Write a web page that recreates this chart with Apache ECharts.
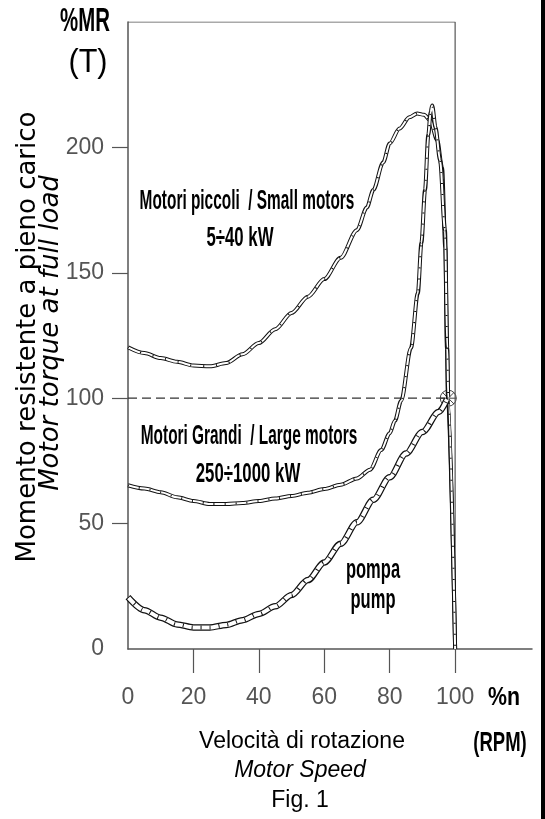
<!DOCTYPE html>
<html><head><meta charset="utf-8">
<script src="https://cdn.jsdelivr.net/npm/echarts@6/dist/echarts.min.js"></script>
<style>html,body{margin:0;padding:0;background:#fff}#c{width:545px;height:819px}</style>
</head><body><div id="c"></div>
<script>
// ---- data ----
const xTickLabels = [0, 20, 40, 60, 80, 100];
const xTickMarks = [20, 40, 60, 80, 100];
const yTickLabels = [0, 50, 100, 150, 200];
const yTickMarks = [50, 100, 150, 200];

const smallSpeed  = [0, 5, 10, 15, 20, 25, 30, 35, 40, 45, 50, 55, 60, 65, 70, 73, 75, 78, 80, 83, 86, 88.4, 90.5, 92.4, 94.5, 96, 97, 97.5, 97.8, 100];
const smallTorque = [120.3, 118, 116, 114.5, 113, 112.7, 114, 117.5, 122, 127.5, 134, 140.5, 147.5, 156, 167, 176, 183, 194, 201.6, 207.5, 212, 213.5, 213, 210.8, 203, 192, 160, 120, 100, 0];

const largeSpeed  = [0, 5, 10, 15, 20, 25, 30, 35, 40, 45, 50, 55, 60, 65, 70, 74, 77.4, 80, 81.6, 83.5, 86.5, 88.6, 89.7, 90.8, 91.8, 92.5, 93, 94, 95.4, 96.9, 97.6, 97.9, 100];
const largeTorque = [65.3, 64, 62.5, 60.5, 59, 57.8, 57.8, 58.2, 59, 60, 61, 62.3, 63.8, 65.5, 68, 71.5, 79.3, 86, 91, 99, 120, 141.8, 162, 183, 205, 214, 216.7, 208, 194.8, 166.9, 120, 100, 0];

const pumpSpeed  = [0, 5, 10, 15, 20, 25, 30, 35, 40, 45, 50, 55, 60, 65, 70, 75, 80, 85, 90, 95, 97.5];
const pumpTorque = [20.7, 15.5, 12.5, 9.8, 8.6, 8.6, 9.6, 11.5, 14, 17, 21.5, 27.5, 34.5, 42, 50.5, 59.5, 68.5, 78, 86.5, 94.5, 99.5];

const nominalSpeed = [0, 97.9];
const nominalTorque = [100, 100];
const markerPoint = [97.9, 100];

const frameSpeed = [0, 100, 100];
const frameTorque = [250, 250, 0];

// ---- helpers ----
function pairs(xs, ys) { return xs.map((x, i) => [x, ys[i]]); }
function band(data, outer, inner, dash) {
  const base = { type: 'line', data: data, showSymbol: false, symbol: 'none', smooth: 0.3, smoothMonotone: 'x', silent: true };
  const out = [
    Object.assign({}, base, { lineStyle: { color: '#111', width: outer } }),
    Object.assign({}, base, { lineStyle: { color: '#fff', width: inner } })
  ];
  if (dash) out.push(Object.assign({}, base, { lineStyle: { color: '#111', width: inner, type: dash, cap: 'butt' } }));
  return out;
}
function txt(text, x, y, font, sx, extra) {
  return Object.assign({
    type: 'text', x: x, y: y, scaleX: sx || 1, silent: true,
    style: { text: text, font: font, fill: '#000', textAlign: 'center', textVerticalAlign: 'middle' }
  }, extra || {});
}
const SANS = "'Liberation Sans', Arial, sans-serif";
const ANN = "bold 28px " + SANS;

const chart = echarts.init(document.getElementById('c'), null, { renderer: 'canvas' });
const series = [].concat(
  [{ type: 'line', data: pairs(frameSpeed, frameTorque), showSymbol: false, symbol: 'none', silent: true,
     lineStyle: { color: '#555', width: 1.2 } }],
  [{ type: 'line', data: pairs(nominalSpeed, nominalTorque), showSymbol: false, symbol: 'none', silent: true,
     lineStyle: { color: '#333', width: 1.2, type: [9, 5] } }],
  band(pairs(smallSpeed, smallTorque), 4, 2, [1, 12]),
  band(pairs(largeSpeed, largeTorque), 4, 2, [1, 10]),
  band(pairs(pumpSpeed, pumpTorque), 6.5, 4, [1, 8]),
  [{ type: 'scatter', data: [markerPoint], symbolSize: 16, silent: true,
     symbol: 'path://M0,-10 A10,10 0 1,1 0,10 A10,10 0 1,1 0,-10 Z M0,-10 L0,10 M-10,0 L10,0 M-7.07,-7.07 L7.07,7.07 M-7.07,7.07 L7.07,-7.07',
     itemStyle: { color: 'rgba(255,255,255,0)', borderColor: '#111', borderWidth: 1 } }]
);

chart.setOption({
  animation: false,
  backgroundColor: '#fff',
  grid: { left: 128, right: 13, top: 22, bottom: 170, containLabel: false, outerBoundsMode: 'none' },
  xAxis: {
    type: 'value', min: 0, max: 123.5, interval: 20,
    axisLine: { show: true, lineStyle: { color: '#555', width: 1.5 } },
    axisTick: { show: true, length: 24, inside: false, customValues: xTickMarks, lineStyle: { color: '#555', width: 1.2 } },
    axisLabel: { show: true, margin: 37, customValues: xTickLabels, color: '#555', fontFamily: SANS, fontSize: 23 },
    splitLine: { show: false }
  },
  yAxis: {
    type: 'value', min: 0, max: 250, interval: 50,
    axisLine: { show: true, lineStyle: { color: '#555', width: 1.5 } },
    axisTick: { show: true, length: 16, inside: false, customValues: yTickMarks, lineStyle: { color: '#555', width: 1.2 } },
    axisLabel: { show: true, margin: 24, customValues: yTickLabels, color: '#555', fontFamily: SANS, fontSize: 23 },
    splitLine: { show: false }
  },
  series: series,
  graphic: [
    { type: 'rect', left: 541, top: 0, shape: { width: 4, height: 819 }, style: { fill: '#000' }, silent: true },
    txt('%MR', 85, 22, 'bold 34px ' + SANS, 0.6),
    txt('(T)', 88, 63, '34px ' + SANS, 0.9),
    txt('%n', 504, 698, 'bold 26px ' + SANS, 0.82),
    txt('(RPM)', 500, 743, 'bold 28px ' + SANS, 0.66),
    txt('Momento resistente a pieno carico', 28, 337, "26px 'DejaVu Sans', sans-serif", 1, { rotation: Math.PI / 2 }),
    txt('Motor torque at full load', 51, 333, "italic 26px 'DejaVu Sans', sans-serif", 1, { rotation: Math.PI / 2 }),
    txt('Velocità di rotazione', 302, 742, "23px " + SANS, 1),
    txt('Motor Speed', 300, 771, "italic 23px " + SANS, 1),
    txt('Fig. 1', 300, 801, "23px " + SANS, 1),
    txt('Motori piccoli  / Small motors', 247, 201, ANN, 0.55),
    txt('5÷40 kW', 240, 238, ANN, 0.6),
    txt('Motori Grandi  / Large motors', 249, 436, ANN, 0.55),
    txt('250÷1000 kW', 248, 474, ANN, 0.6),
    txt('pompa', 373, 570, ANN, 0.59),
    txt('pump', 373, 600, ANN, 0.59)
  ]
});
</script>
</body></html>
